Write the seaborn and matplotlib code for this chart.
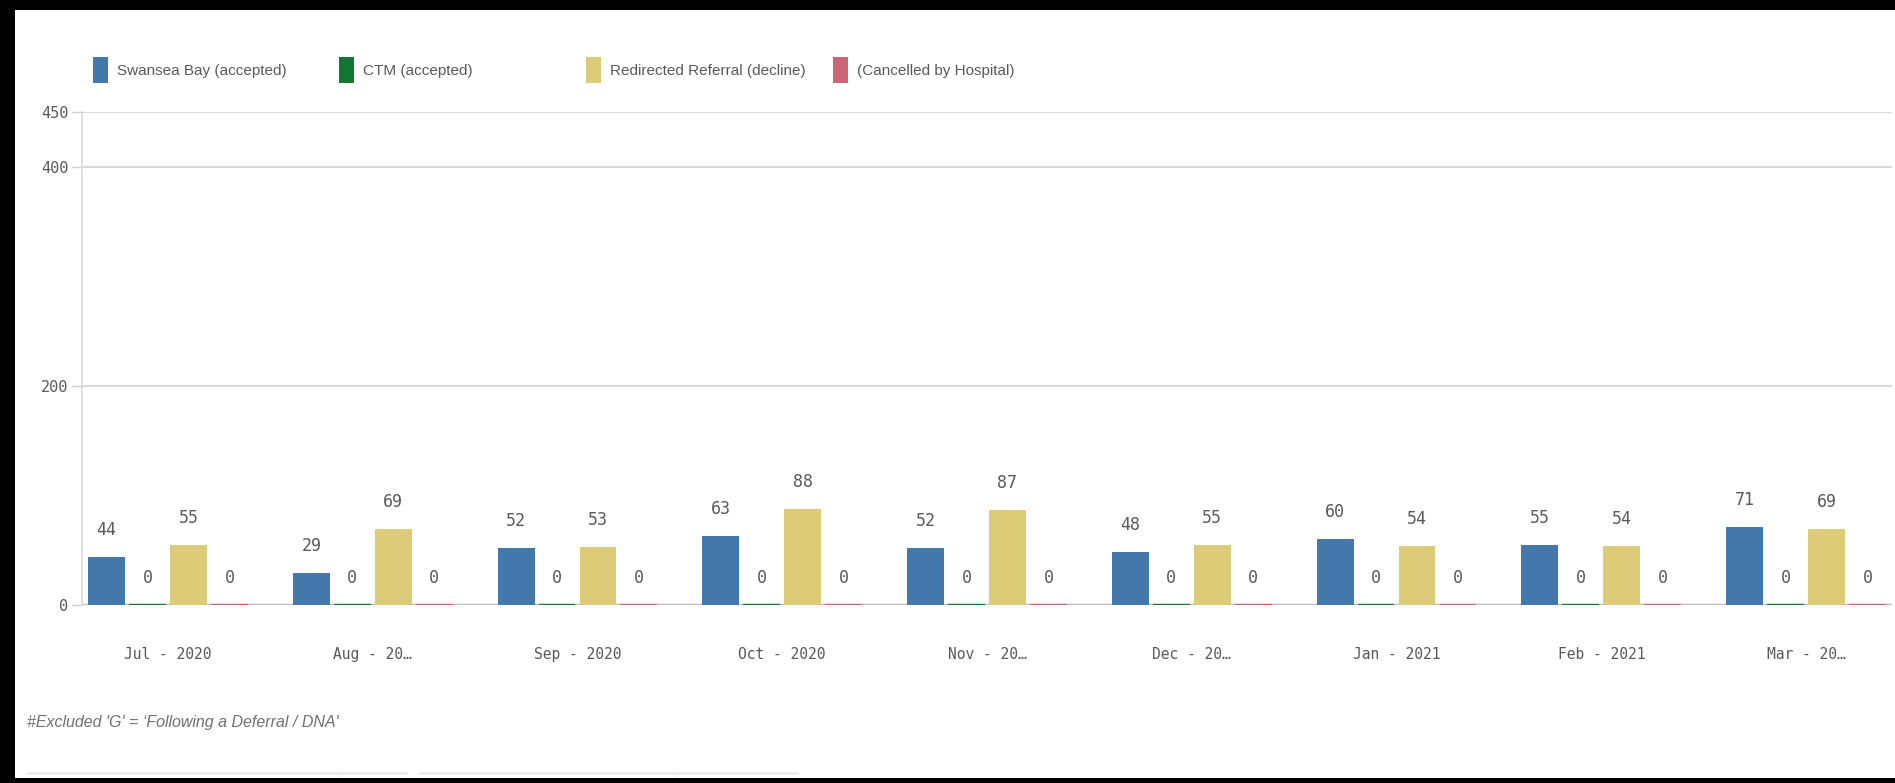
import matplotlib
matplotlib.use("Agg")
import matplotlib.pyplot as plt
import seaborn as sns
import pandas as pd
from matplotlib.patches import Patch, Rectangle
from matplotlib.lines import Line2D

# ---------------- data ----------------
months = ["Jul - 2020", "Aug - 20…", "Sep - 2020", "Oct - 2020", "Nov - 20…",
          "Dec - 20…", "Jan - 2021", "Feb - 2021", "Mar - 20…"]
series_names = ["Swansea Bay (accepted)", "CTM (accepted)",
                "Redirected Referral (decline)", "(Cancelled by Hospital)"]
swansea_bay = [44, 29, 52, 63, 52, 48, 60, 55, 71]
ctm = [0, 0, 0, 0, 0, 0, 0, 0, 0]
redirected = [55, 69, 53, 88, 87, 55, 54, 54, 69]
cancelled = [0, 0, 0, 0, 0, 0, 0, 0, 0]
y_ticks = [0, 200, 400, 450]
footnote = "#Excluded 'G' = ‘Following a Deferral / DNA'"
colors = ["#4477aa", "#117733", "#ddcc77", "#cc6677"]

series_values = [swansea_bay, ctm, redirected, cancelled]
rows = []
for name, vals in zip(series_names, series_values):
    for m, v in zip(months, vals):
        rows.append({"month": m, "series": name, "value": v})
df = pd.DataFrame(rows)

# ---------------- style ----------------
sns.set_theme(style="white")
plt.rcParams["font.family"] = ["DejaVu Sans Mono", "DejaVu Sans"]
TXT = "#595959"

W, H = 1895, 783
fig = plt.figure(figsize=(W / 100, H / 100), dpi=100)
fig.patch.set_facecolor("white")
ax = fig.add_axes([82 / W, (H - 605) / H, 1810 / W, 493 / H])

sns.barplot(data=df, x="month", y="value", hue="series", order=months,
            hue_order=series_names, palette=colors, saturation=1,
            width=0.8, gap=0.1, errorbar=None, legend=False, ax=ax, zorder=2)

for cont, vals in zip(ax.containers, series_values):
    for bar, v in zip(cont, vals):
        if v == 0:
            bar.set_edgecolor(bar.get_facecolor())
            bar.set_linewidth(1.6)
        else:
            bar.set_linewidth(0)
    ax.bar_label(cont, labels=[f"{v:d}" for v in vals], padding=13,
                 fontsize=12, color=TXT, family="DejaVu Sans Mono")

ax.set_ylim(0, 450)
ax.set_xlim(-0.42, 8.42)
ax.set_yticks(y_ticks)
ax.set_yticklabels([str(t) for t in y_ticks])
ax.set_xlabel("")
ax.set_ylabel("")
ax.yaxis.grid(True, color="#d9d9d9", lw=1.5)
ax.xaxis.grid(False)
ax.set_axisbelow(True)
ax.axhline(0, color="#bdbdbd", lw=2.5, zorder=1)

for s in ["top", "right", "bottom"]:
    ax.spines[s].set_visible(False)
ax.spines["left"].set_color("#d9d9d9")
ax.spines["left"].set_linewidth(1.2)

ax.tick_params(axis="y", length=7, width=1, color="#cccccc", labelsize=11,
               labelcolor=TXT, pad=3, left=True)
ax.tick_params(axis="x", length=0, labelsize=10.5, labelcolor=TXT, pad=30)

# ---------------- legend (Qlik style, items at fixed positions) ----------------
leg_x = [93, 339, 586, 833]
for name, c, x in zip(series_names, colors, leg_x):
    fig.legend(handles=[Patch(facecolor=c, edgecolor="none")], labels=[name],
               loc="center left", bbox_to_anchor=(x / W, 1 - 70 / H),
               frameon=False, borderpad=0, borderaxespad=0,
               handlelength=0.95, handleheight=2.2, handletextpad=0.6,
               prop={"family": "Liberation Sans", "size": 11},
               labelcolor=TXT)

# ---------------- footnote ----------------
fig.text(27 / W, 1 - 722 / H, footnote, ha="left", va="center",
         fontsize=11.5, color="#707070", style="italic",
         family="Liberation Sans")

# ---------------- decorative table header fragments ----------------
yl = 1 - 773 / H
for x0, x1 in [(27, 339), (339, 406), (419, 675), (675, 797)]:
    fig.add_artist(Line2D([x0 / W, x1 / W], [yl, yl], color="#ececec",
                          lw=2, transform=fig.transFigure))
for xd in [339, 675]:
    fig.add_artist(Line2D([xd / W, xd / W], [yl, 1 - 779 / H],
                          color="#ececec", lw=1, transform=fig.transFigure))

# ---------------- black screenshot frame ----------------
for (x, y, w, h) in [(0, 0, 15, H), (0, 0, W, 5), (0, H - 10, W, 10)]:
    fig.add_artist(Rectangle((x / W, y / H), w / W, h / H, facecolor="black",
                             edgecolor="none", transform=fig.transFigure,
                             zorder=10))

fig.savefig("out.png", dpi=100, facecolor="white")
